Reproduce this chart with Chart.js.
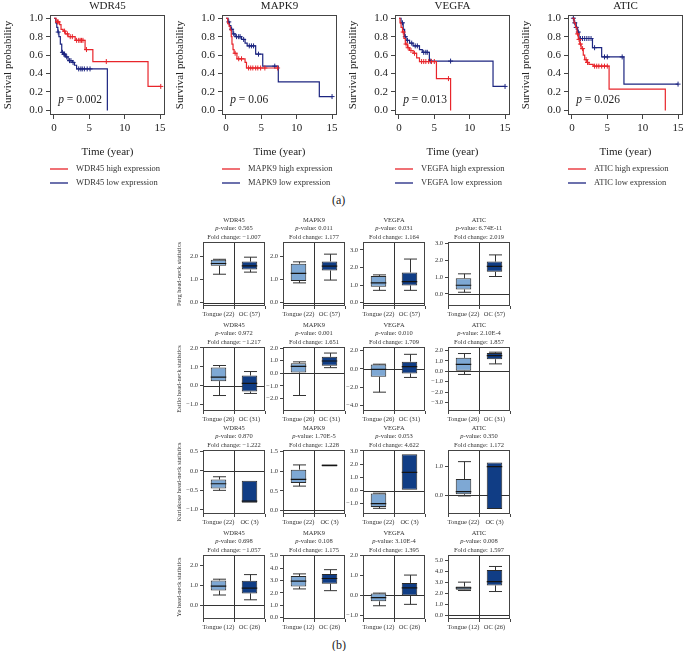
<!DOCTYPE html>
<html>
<head>
<meta charset="utf-8">
<script src="https://cdn.jsdelivr.net/npm/chart.js@4.4.1/dist/chart.umd.min.js"></script>
<style>
  body { margin: 0; background: #fff; }
  #fig { position: relative; width: 684px; height: 651px; overflow: hidden; font-family: 'Liberation Serif', 'DejaVu Serif', serif; color: #222; }
  #fig canvas { position: absolute; }
  .tag { position: absolute; font-size: 12px; line-height: 14px; }
</style>
</head>
<body>
<div id="fig">
  <div class="tag" style="left:332px; top:193px;">(a)</div>
  <div class="tag" style="left:332px; top:638px;">(b)</div>
</div>
<script>
// ---- Kaplan-Meier data (a) ----
const kmGenes = ['WDR45', 'MAPK9', 'VEGFA', 'ATIC'];
const kmPValues = ['0.002', '0.06', '0.013', '0.026'];
const kmTimeTicks = [0, 5, 10, 15];
const kmSurvTicks = [0, 0.2, 0.4, 0.6, 0.8, 1.0];

// time of each step and survival after it, plus censor times
const wdr45HighTime = [0, 0.3, 0.8, 1.0, 1.3, 1.6, 2.0, 3.0, 4.4, 5.5, 13.3, 15.1];
const wdr45HighSurv = [1, 0.96, 0.93, 0.88, 0.86, 0.83, 0.80, 0.76, 0.66, 0.53, 0.26, 0.26];
const wdr45HighCens = [0.5, 0.6, 1.5, 1.9, 2.3, 2.6, 3.2, 3.5, 3.7, 3.9, 4.1, 4.6, 7.4, 15.1];
const wdr45LowTime = [0, 0.25, 0.4, 0.55, 0.7, 0.9, 1.1, 1.35, 1.65, 2.0, 2.6, 2.9, 3.2, 7.55];
const wdr45LowSurv = [1, 0.95, 0.90, 0.85, 0.80, 0.72, 0.63, 0.61, 0.58, 0.54, 0.52, 0.49, 0.45, 0];
const wdr45LowCens = [0.6, 1.2, 1.4, 1.5, 1.8, 2.2, 2.4, 2.7, 3.5, 3.8, 4.0, 4.3, 4.7, 5.1];

const mapk9HighTime = [0, 0.25, 0.45, 0.6, 0.75, 0.85, 1.0, 1.15, 1.55, 2.7, 2.9, 7.3];
const mapk9HighSurv = [1, 0.94, 0.91, 0.87, 0.80, 0.72, 0.66, 0.62, 0.56, 0.52, 0.46, 0.46];
const mapk9HighCens = [1.3, 1.8, 2.2, 3.2, 3.5, 3.8, 4.2, 4.5, 4.9, 5.5, 7.3];
const mapk9LowTime = [0, 0.3, 0.5, 0.7, 1.0, 1.3, 2.2, 2.7, 3.0, 4.2, 5.2, 7.4, 13.2, 15];
const mapk9LowSurv = [1, 0.96, 0.92, 0.88, 0.83, 0.80, 0.77, 0.73, 0.70, 0.61, 0.48, 0.31, 0.15, 0.15];
const mapk9LowCens = [0.4, 0.8, 1.1, 1.5, 1.8, 2.0, 2.5, 3.3, 3.6, 3.9, 4.6, 6.9, 15];

const vegfaHighTime = [0, 0.15, 0.3, 0.5, 0.7, 0.9, 1.2, 1.5, 2.0, 2.5, 2.9, 5.3, 7.3];
const vegfaHighSurv = [1, 0.95, 0.90, 0.85, 0.78, 0.72, 0.68, 0.65, 0.62, 0.57, 0.53, 0.345, 0];
const vegfaHighCens = [0.6, 1.0, 1.3, 1.7, 2.2, 3.2, 3.5, 3.8, 4.2, 4.6, 5.0, 7.0];
const vegfaLowTime = [0, 0.3, 0.6, 0.8, 1.0, 1.5, 2.0, 2.9, 3.3, 4.3, 13.3, 15];
const vegfaLowSurv = [1, 0.95, 0.88, 0.80, 0.76, 0.73, 0.70, 0.66, 0.63, 0.535, 0.26, 0.26];
const vegfaLowCens = [0.5, 0.9, 1.2, 1.8, 2.3, 2.6, 3.5, 3.8, 4.0, 4.5, 7.3, 15];

const aticHighTime = [0, 0.3, 0.5, 0.7, 0.9, 1.1, 1.3, 1.6, 1.8, 2.1, 2.4, 3.0, 5.25, 13.2];
const aticHighSurv = [1, 0.95, 0.90, 0.83, 0.77, 0.72, 0.67, 0.60, 0.55, 0.52, 0.50, 0.48, 0.23, 0];
const aticHighCens = [0.8, 1.0, 1.2, 1.5, 2.0, 2.2, 3.2, 3.5, 3.8, 4.2, 4.6, 5.0];
const aticLowTime = [0, 0.3, 0.6, 0.8, 1.0, 2.9, 4.2, 7.35, 15];
const aticLowSurv = [1, 0.95, 0.90, 0.85, 0.78, 0.68, 0.58, 0.285, 0.285];
const aticLowCens = [0.2, 0.4, 0.6, 0.9, 1.2, 1.5, 1.8, 2.1, 2.4, 2.7, 3.2, 4.6, 5.0, 7.1, 15];

// ---- box plot data (b) ----
const boxGenes = ['WDR45', 'MAPK9', 'VEGFA', 'ATIC'];
const boxStudies = ['Perg', 'Estilo', 'Kuriakose', 'Ye'];
const groupSizes = [[22, 57], [26, 31], [22, 3], [12, 26]];

const pergPValues = ['0.565', '0.011', '0.031', '6.74E-11'];
const pergFold = ['−1.007', '1.177', '1.164', '2.019'];
const estiloPValues = ['0.972', '0.001', '0.010', '2.10E-4'];
const estiloFold = ['−1.217', '1.651', '1.709', '1.857'];
const kuriakosePValues = ['0.870', '1.70E-5', '0.053', '0.350'];
const kuriakoseFold = ['−1.222', '1.228', '4.622', '1.172'];
const yePValues = ['0.698', '0.108', '3.10E-4', '0.008'];
const yeFold = ['−1.057', '1.175', '1.395', '1.597'];

// [min, q1, median, q3, max] per gene
const pergTongue = [[1.22, 1.58, 1.68, 1.84, 1.86], [0.85, 0.93, 1.26, 1.67, 1.75], [0.70, 0.90, 1.13, 1.52, 1.58], [0.10, 0.27, 0.52, 0.93, 1.20]];
const pergOC = [[1.31, 1.42, 1.58, 1.76, 1.95], [0.97, 1.38, 1.57, 1.77, 2.08], [0.70, 0.98, 1.20, 1.72, 2.48], [1.04, 1.32, 1.65, 1.93, 2.33]];
const estiloTongue = [[-0.52, 0.24, 0.45, 0.97, 1.07], [-1.77, 0.05, 0.55, 0.80, 0.90], [-2.54, -0.86, -0.04, 0.48, 0.52], [-0.30, 0.05, 0.68, 1.30, 1.72]];
const estiloOC = [[-0.41, -0.31, 0.12, 0.54, 0.75], [0.44, 0.59, 0.97, 1.30, 1.60], [-0.93, -0.50, 0.25, 0.80, 1.60], [0.72, 1.17, 1.52, 1.78, 1.85]];
const kuriakoseTongue = [[-0.50, -0.45, -0.33, -0.22, -0.15], [0.62, 0.70, 0.79, 1.04, 1.16], [-1.35, -1.25, -1.00, -0.22, -0.20], [-0.03, 0.03, 0.12, 0.55, 1.15]];
const kuriakoseOC = [[-0.82, -0.82, -0.78, -0.25, -0.25], [1.12, 1.12, 1.15, 1.17, 1.17], [0.05, 0.05, 1.38, 2.75, 2.75], [-0.48, -0.48, 0.98, 1.12, 1.12]];
const yeTongue = [[0.51, 0.73, 0.95, 1.24, 1.30], [2.32, 2.51, 2.94, 3.36, 3.53], [-0.53, -0.31, -0.12, 0.08, 0.10], [2.24, 2.30, 2.48, 2.60, 3.00]];
const yeOC = [[0.27, 0.59, 0.85, 1.22, 1.53], [2.18, 2.74, 3.16, 3.53, 3.87], [-0.46, -0.02, 0.36, 0.61, 1.00], [2.15, 2.70, 3.04, 4.10, 4.42]];

const pergTicks = [[0, 1, 2], [0, 1, 2], [0, 1, 2, 3], [0, 1, 2, 3]];
const estiloTicks = [[-1, 0, 1, 2], [-2, -1, 0, 1, 2], [-4, -3, -2, -1, 0, 1, 2], [-3, -2, -1, 0, 1, 2]];
const kuriakoseTicks = [[-1, -0.5, 0, 0.5], [0, 0.5, 1, 1.5], [-1, 0, 1, 2, 3], [0, 1]];
const yeTicks = [[0, 1, 2], [0, 1, 2, 3, 4, 5], [-1, 0, 1, 2], [0, 1, 2, 3, 4, 5]];

const pergRange = [[-0.14, 2.6], [-0.14, 2.6], [-0.19, 3.45], [-0.72, 3.1]];
const estiloRange = [[-1.34, 2.05], [-3.0, 2.08], [-4.6, 2.4], [-3.83, 2.35]];
const kuriakoseRange = [[-1.11, 0.54], [-0.09, 1.54], [-1.78, 3.07], [-0.65, 1.55]];
const yeRange = [[-0.69, 2.51], [-0.1, 5.05], [-1.19, 2.0], [-0.34, 5.46]];

// ---- drawing ----
const FONT = "'Liberation Serif', 'DejaVu Serif', serif";
const RED = '#e8252b', NAVY = '#1c2580';
const TONGUE_FILL = '#7ea8d4', OC_FILL = '#103d85';
const fig = document.getElementById('fig');

const addCanvas = (left, top, w, h) => {
    const c = document.createElement('canvas');
    c.width = w; c.height = h;
    c.style.left = left + 'px'; c.style.top = top + 'px';
    fig.appendChild(c);
    return c;
};
const fmt = (v) => (v < 0 ? '−' : '') + Math.abs(v).toFixed(1);
const survAt = (times, surv, t) => {
    let s = surv[0];
    times.forEach((tt, k) => { if (tt <= t) s = surv[k]; });
    return s;
};

const kmCurves = [
    [[wdr45HighTime, wdr45HighSurv, wdr45HighCens], [wdr45LowTime, wdr45LowSurv, wdr45LowCens]],
    [[mapk9HighTime, mapk9HighSurv, mapk9HighCens], [mapk9LowTime, mapk9LowSurv, mapk9LowCens]],
    [[vegfaHighTime, vegfaHighSurv, vegfaHighCens], [vegfaLowTime, vegfaLowSurv, vegfaLowCens]],
    [[aticHighTime, aticHighSurv, aticHighCens], [aticLowTime, aticLowSurv, aticLowCens]],
];
const KM_LEFT = [0, 172, 345, 518];

const kmDecor = (gene, pText) => ({
    id: 'kmDecor',
    afterDraw(chart) {
        const { ctx, chartArea: a, scales: { x, y } } = chart;
        ctx.save();
        ctx.strokeStyle = '#444'; ctx.lineWidth = 1;
        ctx.strokeRect(a.left + 0.5, a.top + 0.5, a.width - 1, a.height - 1);
        ctx.fillStyle = '#222';
        ctx.textBaseline = 'middle';
        ctx.textAlign = 'center';
        ctx.font = `11px ${FONT}`;
        ctx.fillText(gene, (a.left + a.right) / 2, 6.5);
        // p value inside the plot
        ctx.textAlign = 'left';
        const px = x.getPixelForValue(0.6), py = y.getPixelForValue(0.11);
        ctx.font = `italic 11.5px ${FONT}`;
        ctx.fillText('p', px, py);
        const pw = ctx.measureText('p').width;
        ctx.font = `11.5px ${FONT}`;
        ctx.fillText(' = ' + pText, px + pw, py);
        // legend
        ctx.font = `8.5px ${FONT}`;
        [[gene + ' high expression', RED, 54], [gene + ' low expression', NAVY, 68]].forEach(([txt, col, dy]) => {
            const ly = a.bottom + dy;
            ctx.strokeStyle = col; ctx.lineWidth = 1.3;
            ctx.beginPath(); ctx.moveTo(a.left, ly); ctx.lineTo(a.left + 18, ly); ctx.stroke();
            ctx.fillStyle = '#333';
            ctx.fillText(txt, a.left + 26, ly);
        });
        ctx.restore();
    }
});

const drawKM = (i) => {
    const canvas = addCanvas(KM_LEFT[i], 0, 170, 192);
    const gene = kmGenes[i];
    const lineSet = ([time, surv], color) => ({
        data: time.map((t, k) => ({ x: t, y: surv[k] })),
        showLine: true, stepped: 'before', borderColor: color, borderWidth: 1.2, pointRadius: 0, fill: false,
    });
    const censSet = ([time, surv, cens], color) => ({
        data: cens.map(t => ({ x: t, y: survAt(time, surv, t) })),
        showLine: false, pointStyle: 'cross', pointRadius: 2.5, borderColor: color, borderWidth: 1,
    });
    const [high, low] = kmCurves[i];
    new Chart(canvas, {
        type: 'scatter',
        data: { datasets: [lineSet(high, RED), censSet(high, RED), lineSet(low, NAVY), censSet(low, NAVY)] },
        options: {
            responsive: false, animation: false, events: [],
            layout: { padding: { top: 15, right: 3, bottom: 32, left: 0 } },
            plugins: { legend: { display: false }, tooltip: { enabled: false } },
            scales: {
                x: {
                    type: 'linear', min: -0.56, max: 15.7,
                    afterBuildTicks: (s) => { s.ticks = kmTimeTicks.map(v => ({ value: v })); },
                    afterFit: (s) => { s.height = 45; },
                    ticks: { font: { family: FONT, size: 11 }, color: '#222', padding: 3 },
                    grid: { drawOnChartArea: false, tickLength: 4, color: '#444' },
                    border: { display: false },
                    title: { display: true, text: 'Time (year)', font: { family: FONT, size: 11 }, color: '#222', padding: { top: 0, bottom: 1 } },
                },
                y: {
                    min: -0.05, max: 1.035,
                    afterBuildTicks: (s) => { s.ticks = kmSurvTicks.map(v => ({ value: v })); },
                    afterFit: (s) => { s.width = 50; },
                    ticks: { font: { family: FONT, size: 11 }, color: '#222', padding: 3, callback: (v) => fmt(v) },
                    grid: { drawOnChartArea: false, tickLength: 4, color: '#444' },
                    border: { display: false },
                    title: { display: true, text: 'Survival probability', font: { family: FONT, size: 11 }, color: '#222', padding: { top: 2, bottom: 0 } },
                },
            },
        },
        plugins: [kmDecor(gene, kmPValues[i])],
    });
};

const tongueStats = [pergTongue, estiloTongue, kuriakoseTongue, yeTongue];
const ocStats = [pergOC, estiloOC, kuriakoseOC, yeOC];
const pValues = [pergPValues, estiloPValues, kuriakosePValues, yePValues];
const foldChanges = [pergFold, estiloFold, kuriakoseFold, yeFold];
const yTicks = [pergTicks, estiloTicks, kuriakoseTicks, yeTicks];
const yRanges = [pergRange, estiloRange, kuriakoseRange, yeRange];

const BOX_LEFT = [203, 283, 363, 448];
const BOX_TOP = [242, 347, 450, 555];
const FRAME_W = 62, FRAME_H = 64, HEAD = 30;

const boxDecor = (stats, gene, pv, fc) => ({
    id: 'boxDecor',
    beforeDatasetsDraw(chart) {
        const { ctx, chartArea: a, scales: { x, y } } = chart;
        const meta = chart.getDatasetMeta(0);
        ctx.save();
        ctx.strokeStyle = '#333'; ctx.lineWidth = 1;
        ctx.beginPath();
        const y0 = Math.round(y.getPixelForValue(0)) + 0.5;
        ctx.moveTo(a.left, y0); ctx.lineTo(a.right, y0);
        const xm = Math.round((x.getPixelForValue(0) + x.getPixelForValue(1)) / 2) + 0.5;
        ctx.moveTo(xm, a.top); ctx.lineTo(xm, a.bottom);
        stats.forEach((s, i) => {
            const cx = Math.round(meta.data[i].x) + 0.5;
            const half = meta.data[i].width * 0.42;
            const [lo, q1, , q3, hi] = s.map(v => y.getPixelForValue(v));
            if (s[0] < s[1]) {
                ctx.moveTo(cx, q1); ctx.lineTo(cx, lo);
                ctx.moveTo(cx - half, lo); ctx.lineTo(cx + half, lo);
            }
            if (s[4] > s[3]) {
                ctx.moveTo(cx, q3); ctx.lineTo(cx, hi);
                ctx.moveTo(cx - half, hi); ctx.lineTo(cx + half, hi);
            }
        });
        ctx.stroke();
        ctx.restore();
    },
    afterDatasetsDraw(chart) {
        const { ctx, chartArea: a, scales: { y } } = chart;
        const meta = chart.getDatasetMeta(0);
        ctx.save();
        ctx.strokeStyle = '#151515'; ctx.lineWidth = 1.2;
        ctx.beginPath();
        stats.forEach((s, i) => {
            const el = meta.data[i];
            const my = y.getPixelForValue(s[2]);
            ctx.moveTo(el.x - el.width / 2, my); ctx.lineTo(el.x + el.width / 2, my);
        });
        ctx.stroke();
        ctx.strokeStyle = '#444'; ctx.lineWidth = 1;
        ctx.strokeRect(a.left + 0.5, a.top + 0.5, a.width - 1, a.height - 1);
        // three header lines
        const cx = (a.left + a.right) / 2;
        ctx.fillStyle = '#333'; ctx.textBaseline = 'middle';
        ctx.font = `6.5px ${FONT}`; ctx.textAlign = 'center';
        ctx.fillText(gene, cx, a.top - 22);
        ctx.fillText('Fold change: ' + fc, cx, a.top - 5);
        const rest = '-value: ' + pv;
        ctx.font = `italic 6.5px ${FONT}`;
        const pw = ctx.measureText('p').width;
        ctx.font = `6.5px ${FONT}`;
        const rw = ctx.measureText(rest).width;
        const sx = cx - (pw + rw) / 2;
        ctx.textAlign = 'left';
        ctx.font = `italic 6.5px ${FONT}`;
        ctx.fillText('p', sx, a.top - 13.5);
        ctx.font = `6.5px ${FONT}`;
        ctx.fillText(rest, sx + pw, a.top - 13.5);
        ctx.restore();
    }
});

const drawBox = (r, c) => {
    const yW = c === 0 ? 32 : 26;
    const canvas = addCanvas(BOX_LEFT[c] - yW, BOX_TOP[r] - HEAD, yW + FRAME_W + 3, HEAD + FRAME_H + 14);
    const stats = [tongueStats[r][c], ocStats[r][c]];
    const [n1, n2] = groupSizes[r];
    const [ymin, ymax] = yRanges[r][c];
    new Chart(canvas, {
        type: 'bar',
        data: {
            labels: [`Tongue (${n1})`, `OC (${n2})`],
            datasets: [{
                data: stats.map(s => [s[1], s[3]]),
                backgroundColor: [TONGUE_FILL, OC_FILL],
                borderColor: '#2b2b2b', borderWidth: 1, borderSkipped: false,
                barPercentage: 0.5, categoryPercentage: 1,
            }],
        },
        options: {
            responsive: false, animation: false, events: [],
            layout: { padding: { top: HEAD, right: 3, bottom: 0, left: 0 } },
            plugins: { legend: { display: false }, tooltip: { enabled: false } },
            scales: {
                x: {
                    afterFit: (s) => { s.height = 14; },
                    ticks: { font: { family: FONT, size: 6.5 }, color: '#333', padding: 1, maxRotation: 0, autoSkip: false },
                    grid: { drawOnChartArea: false, tickLength: 3, color: '#444' },
                    border: { display: false },
                },
                y: {
                    min: ymin, max: ymax,
                    afterBuildTicks: (s) => { s.ticks = yTicks[r][c].map(v => ({ value: v })); },
                    afterFit: (s) => { s.width = yW; },
                    ticks: { font: { family: FONT, size: 6.5 }, color: '#333', padding: 2, callback: (v) => fmt(v) },
                    grid: { drawOnChartArea: false, tickLength: 3, color: '#444' },
                    border: { display: false },
                    title: {
                        display: c === 0, text: boxStudies[r] + ' head-neck statistics',
                        font: { family: FONT, size: 6.5 }, color: '#333', padding: { top: 4, bottom: 0 },
                    },
                },
            },
        },
        plugins: [boxDecor(stats, boxGenes[c], pValues[r][c], foldChanges[r][c])],
    });
};

kmGenes.forEach((g, i) => drawKM(i));
boxStudies.forEach((s, r) => boxGenes.forEach((g, c) => drawBox(r, c)));
</script>
</body>
</html>
